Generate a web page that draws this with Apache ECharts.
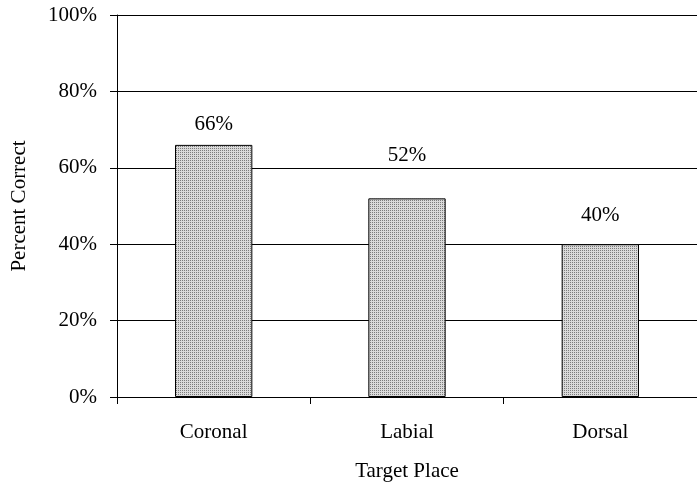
<!DOCTYPE html>
<html>
<head>
<meta charset="utf-8">
<script src="https://cdn.jsdelivr.net/npm/echarts@6/dist/echarts.min.js"></script>
<style>
  html, body { margin: 0; padding: 0; background: #fff; }
  #chart { width: 697px; height: 487px; }
</style>
</head>
<body>
<div id="chart"></div>
<script>
// Percent correct by target place of articulation
const categories = ['Coronal', 'Labial', 'Dorsal'];
const percentCorrect = [66, 52, 40];
const yTicks = [0, 20, 40, 60, 80, 100];

// vertical nudges for the value labels above each bar
const labelOffsets = [-5, -27, -13];

// fine dotted fill for the bars
function dots() {
  const c = document.createElement('canvas');
  c.width = 2; c.height = 2;
  const g = c.getContext('2d');
  g.fillStyle = '#dadada'; g.fillRect(0, 0, 2, 2);
  g.fillStyle = '#7c7c7c';
  g.fillRect(0, 0, 1, 1);
  return c;
}
const pattern = { image: dots(), repeat: 'repeat' };

const font = 'Liberation Serif';
const fs = 21;
const chart = echarts.init(document.getElementById('chart'), null, { renderer: 'canvas' });

chart.setOption({
  animation: false,
  backgroundColor: '#fff',
  textStyle: { fontFamily: font, color: '#000' },
  grid: { left: 117, top: 15, right: -11, bottom: 90, containLabel: false },
  xAxis: {
    type: 'category',
    data: categories,
    name: 'Target Place',
    nameLocation: 'middle',
    nameGap: 64,
    nameTextStyle: { fontFamily: font, fontSize: fs, color: '#000' },
    axisLine: { lineStyle: { color: '#000', width: 1 } },
    axisTick: { show: true, inside: false, length: 7, lineStyle: { color: '#000' } },
    axisLabel: { fontFamily: font, fontSize: fs, color: '#000', margin: 25 },
    splitLine: { show: false }
  },
  yAxis: {
    type: 'value',
    min: yTicks[0],
    max: yTicks[yTicks.length - 1],
    interval: yTicks[1] - yTicks[0],
    name: 'Percent Correct',
    nameLocation: 'middle',
    nameGap: 87,
    nameRotate: 90,
    nameTextStyle: { fontFamily: font, fontSize: fs, color: '#000' },
    axisLine: { show: true, lineStyle: { color: '#000', width: 1 } },
    axisTick: { show: true, inside: false, length: 7, lineStyle: { color: '#000' } },
    axisLabel: { fontFamily: font, fontSize: fs, color: '#000', margin: 20, formatter: '{value}%' },
    splitLine: { show: true, lineStyle: { color: '#000', width: 1 } }
  },
  series: [{
    type: 'bar',
    barWidth: '40%',
    data: percentCorrect.map((v, i) => ({
      value: v,
      label: { offset: [0, labelOffsets[i]] }
    })),
    itemStyle: { color: pattern, borderColor: '#000', borderWidth: 1 },
    label: {
      show: true,
      position: 'top',
      distance: 5,
      fontFamily: font,
      fontSize: fs,
      color: '#000',
      formatter: p => p.value + '%'
    }
  }]
});
</script>
</body>
</html>
